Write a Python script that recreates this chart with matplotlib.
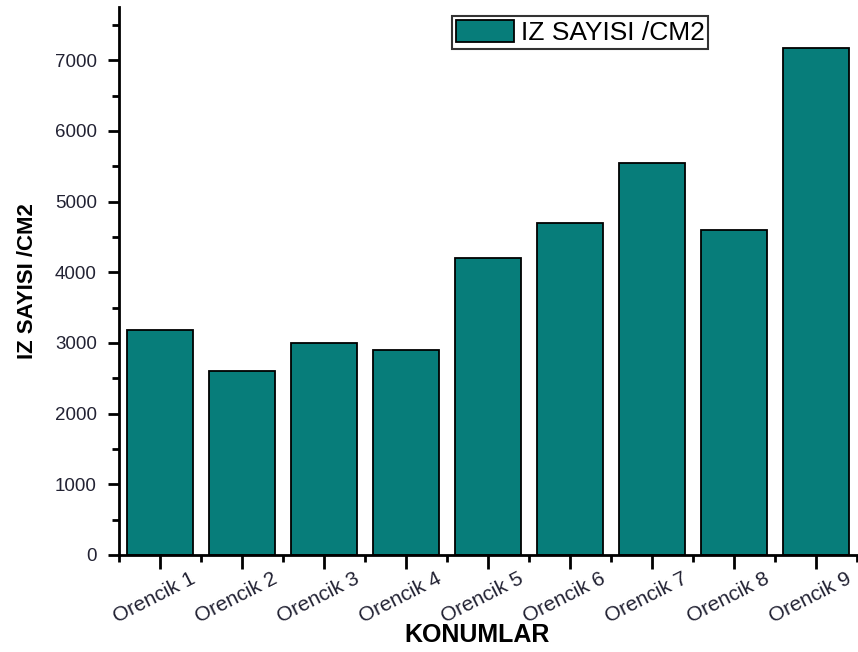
import matplotlib
matplotlib.use("Agg")
import matplotlib.pyplot as plt
import matplotlib.transforms as mtransforms
from matplotlib.ticker import MultipleLocator, FixedLocator

plt.rcParams['font.family'] = ['Liberation Sans', 'DejaVu Sans']

# Konumlar ve iz sayilari
konumlar = ["Orencik 1", "Orencik 2", "Orencik 3", "Orencik 4", "Orencik 5",
            "Orencik 6", "Orencik 7", "Orencik 8", "Orencik 9"]
izSayisi = [3180, 2600, 3000, 2900, 4200, 4700, 5550, 4600, 7180]

renk = "#077d7a"

fig = plt.figure(figsize=(8.58, 6.52), dpi=100)
ax = fig.add_axes([0.1387, 0.1488, 0.86, 0.84])

pozisyonlar = list(range(len(konumlar)))
ax.bar(pozisyonlar, izSayisi, width=0.8, color=renk, edgecolor="black",
       linewidth=1.3, label="IZ SAYISI /CM2")

ax.set_xlim(-0.5, len(konumlar) - 0.5)
ax.set_ylim(0, 7750)

for kenar in ["top", "right"]:
    ax.spines[kenar].set_visible(False)
for kenar in ["left", "bottom"]:
    ax.spines[kenar].set_linewidth(2)

ax.yaxis.set_major_locator(MultipleLocator(1000))
ax.yaxis.set_minor_locator(MultipleLocator(500))
ax.set_xticks(pozisyonlar)
ax.set_xticklabels(konumlar, rotation=27, ha="center")
ax.xaxis.set_minor_locator(FixedLocator([p - 0.5 for p in pozisyonlar] + [len(konumlar) - 0.5]))

ax.tick_params(axis="both", which="major", direction="out", length=8, width=2,
               colors="black")
ax.tick_params(axis="y", which="major", labelsize=13.5, pad=8)
ax.tick_params(axis="x", which="major", length=10, pad=0, labelsize=15)
ax.tick_params(axis="both", which="minor", direction="out", length=5, width=2)

# etiketleri biraz sola kaydir
kaydirma = mtransforms.ScaledTranslation(-6 / 100, 0, fig.dpi_scale_trans)
for etiket in ax.get_xticklabels():
    etiket.set_transform(etiket.get_transform() + kaydirma)
for etiket in ax.get_xticklabels() + ax.get_yticklabels():
    etiket.set_color("#222233")

ax.set_xlabel("KONUMLAR", fontsize=18, fontweight="bold")
ax.xaxis.set_label_coords(0.485, -0.125)
ax.set_ylabel("IZ SAYISI /CM2", fontsize=16, fontweight="bold", labelpad=12)

lejant = ax.legend(loc="upper left", bbox_to_anchor=(452 / 858, 1 - 16 / 652),
                   bbox_transform=fig.transFigure, fontsize=19, frameon=True,
                   fancybox=False, edgecolor="black", handlelength=2.2,
                   handleheight=0.9, borderpad=0.15, handletextpad=0.25,
                   borderaxespad=0)
lejant.get_frame().set_linewidth(1.5)

fig.savefig("out.png", dpi=100)
